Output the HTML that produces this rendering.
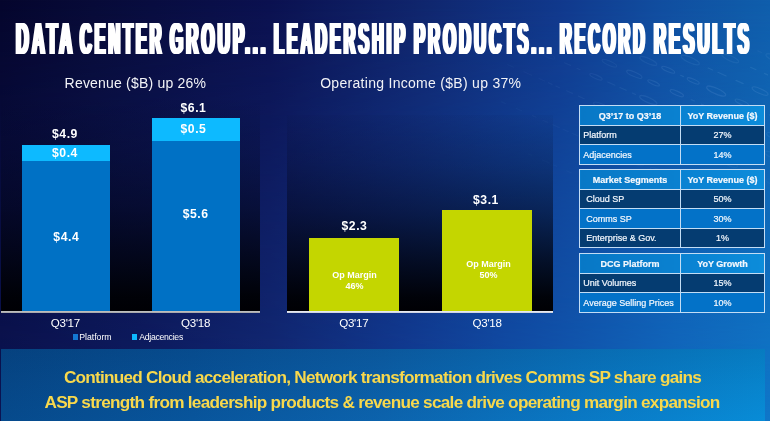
<!DOCTYPE html>
<html lang="en">
<head>
<meta charset="utf-8">
<title>Data Center Group - Leadership Products - Record Results</title>
<style>
html,body{margin:0;padding:0;}
body{width:770px;height:421px;overflow:hidden;position:relative;background:#0c1a66;font-family:"Liberation Sans",Arial,sans-serif;color:#fff;}
#slide{position:absolute;left:0;top:0;width:770px;height:421px;overflow:hidden;
  background:linear-gradient(to right,rgb(5,6,45) 0%,rgb(8,11,56) 12%,rgb(11,17,80) 35%,rgb(16,37,108) 54%,rgb(17,57,141) 73%,rgb(17,78,160) 86%,rgb(16,90,168) 96%,rgb(16,94,172) 100%);}
#bg2{position:absolute;left:0;top:0;width:770px;height:421px;
  background:linear-gradient(to right,rgb(11,20,84) 0%,rgb(14,29,100) 18%,rgb(18,43,120) 35%,rgb(17,61,150) 52%,rgb(16,78,168) 65%,rgb(16,90,178) 75%,rgb(16,106,192) 88%,rgb(15,118,200) 100%);
  -webkit-mask-image:linear-gradient(to bottom,rgba(0,0,0,0) 0%,rgba(0,0,0,1) 100%);mask-image:linear-gradient(to bottom,rgba(0,0,0,0) 0%,rgba(0,0,0,1) 100%);}
.abs{position:absolute;}
.t{position:absolute;white-space:nowrap;line-height:1;margin:0;}
.c{text-align:center;}
/* title */
#title{left:0;top:13.5px;width:770px;height:50px;font-weight:bold;font-size:45px;line-height:50px;letter-spacing:8.4px;color:#fff;text-shadow:4.0px 0 0 #fff,-4.0px 0 0 #fff,2.00px 0 0 #fff,-2.00px 0 0 #fff;}
#title span{position:absolute;top:0;transform-origin:0 0;white-space:nowrap;}
/* chart panels */
.panel{position:absolute;background:linear-gradient(to bottom,rgba(3,6,30,.03) 0%,rgba(3,6,30,.1) 8%,rgba(3,6,28,.25) 25%,rgba(2,4,22,.52) 50%,rgba(1,3,14,.82) 75%,rgba(0,1,6,.98) 93%,rgba(0,0,4,1) 100%);}
#p1{left:1px;top:100px;width:259px;height:211px;}
#p2{left:287px;top:115px;width:266px;height:196px;}
.axis{position:absolute;height:2px;background:#d3d6dd;}
.bar{position:absolute;}
.plat{background:#0071c5;}
.adj{background:#0dbaff;}
.grn{background:#c4d600;}
.val{font-weight:bold;font-size:12.2px;letter-spacing:.55px;text-indent:.55px;}
.sub{font-size:14px;color:#f2f3f7;}
.ax{font-size:11.6px;letter-spacing:-.3px;}
.lg{font-size:8.7px;}
.op{font-weight:bold;font-size:9px;line-height:11px;text-align:center;white-space:nowrap;position:absolute;}
/* tables */
table.tb{position:absolute;left:579px;width:185px;border-collapse:collapse;table-layout:fixed;font-size:9px;}
table.tb td,table.tb th{border:1px solid #c3ddf5;height:17.5px;padding:1px 0 0 0;line-height:10px;font-size:9px;color:#f4f8fd;-webkit-text-stroke:.2px #f4f8fd;}
table.tb th{background:linear-gradient(to right,#0878c6,#0a81d0);font-weight:bold;text-align:center;}
table.tb th+th{background:linear-gradient(to right,#0a82d2,#0c8cda);}
table.tb td{text-align:center;}
table.tb td:first-child{text-align:left;padding-left:3.3px;}
table.tb tr.d td{background:#053c71;}
table.tb tr.l td{background:#0372c8;}
table.tb.in td:first-child{padding-left:6.2px;}
/* banner */
#banner{position:absolute;left:1px;top:348.8px;width:764px;height:73px;background:linear-gradient(to bottom,rgba(0,8,40,.13) 0%,rgba(0,8,40,.06) 50%,rgba(0,8,40,0) 100%),linear-gradient(to right,rgb(6,74,140) 0%,rgb(8,85,156) 25%,rgb(12,99,173) 50%,rgb(10,120,196) 75%,rgb(8,140,215) 100%);}
.bt{color:#f8d84c;font-weight:bold;font-size:17.2px;}
</style>
</head>
<body>
<div id="slide">
  <div id="bg2"></div>
  <svg id="tex" class="abs" width="770" height="421" viewBox="0 0 770 421" style="left:0;top:0;filter:blur(.5px);" aria-hidden="true"><g stroke="#a9d6ff" stroke-width="1.2" stroke-linecap="round"><ellipse cx="548.3" cy="55.6" rx="7.1" ry="1.9" transform="rotate(24.0 548.3 55.6)" fill="none" stroke-opacity="0.03"/><line x1="564.5" y1="62.8" x2="570.4" y2="65.4" stroke-opacity="0.05"/><line x1="577.0" y1="68.3" x2="580.0" y2="69.7" stroke-opacity="0.06"/><ellipse cx="596.0" cy="76.8" rx="6.7" ry="1.8" transform="rotate(24.0 596.0 76.8)" fill="none" stroke-opacity="0.07"/><line x1="607.7" y1="82.0" x2="614.9" y2="85.2" stroke-opacity="0.07"/><line x1="619.9" y1="87.5" x2="626.2" y2="90.2" stroke-opacity="0.08"/><line x1="632.5" y1="93.1" x2="635.6" y2="94.5" stroke-opacity="0.08"/><ellipse cx="648.3" cy="100.1" rx="9.4" ry="2.5" transform="rotate(24.0 648.3 100.1)" fill="none" stroke-opacity="0.09"/><line x1="665.0" y1="107.5" x2="670.9" y2="110.2" stroke-opacity="0.08"/><ellipse cx="687.0" cy="117.3" rx="10.0" ry="2.7" transform="rotate(24.0 687.0 117.3)" fill="none" stroke-opacity="0.09"/><ellipse cx="714.5" cy="129.6" rx="8.9" ry="2.4" transform="rotate(24.0 714.5 129.6)" fill="none" stroke-opacity="0.08"/><line x1="731.5" y1="137.1" x2="738.3" y2="140.1" stroke-opacity="0.06"/><line x1="744.0" y1="142.7" x2="747.4" y2="144.2" stroke-opacity="0.06"/><line x1="754.1" y1="147.2" x2="757.7" y2="148.8" stroke-opacity="0.05"/><ellipse cx="773.4" cy="155.8" rx="9.3" ry="2.5" transform="rotate(24.0 773.4 155.8)" fill="none" stroke-opacity="0.05"/><line x1="572.4" y1="46.7" x2="575.5" y2="48.1" stroke-opacity="0.03"/><line x1="584.3" y1="52.0" x2="592.5" y2="55.7" stroke-opacity="0.04"/><ellipse cx="609.4" cy="63.2" rx="7.9" ry="2.1" transform="rotate(24.0 609.4 63.2)" fill="none" stroke-opacity="0.06"/><ellipse cx="634.3" cy="74.3" rx="8.3" ry="2.2" transform="rotate(24.0 634.3 74.3)" fill="none" stroke-opacity="0.09"/><ellipse cx="653.6" cy="82.9" rx="6.3" ry="1.7" transform="rotate(24.0 653.6 82.9)" fill="none" stroke-opacity="0.10"/><ellipse cx="676.8" cy="93.2" rx="7.2" ry="2.0" transform="rotate(24.0 676.8 93.2)" fill="none" stroke-opacity="0.11"/><line x1="691.2" y1="99.6" x2="694.4" y2="101.0" stroke-opacity="0.09"/><line x1="701.3" y1="104.1" x2="708.9" y2="107.5" stroke-opacity="0.09"/><line x1="718.6" y1="111.8" x2="722.8" y2="113.7" stroke-opacity="0.08"/><line x1="729.5" y1="116.7" x2="737.1" y2="120.0" stroke-opacity="0.08"/><ellipse cx="754.0" cy="127.6" rx="6.9" ry="1.9" transform="rotate(24.0 754.0 127.6)" fill="none" stroke-opacity="0.08"/><ellipse cx="774.5" cy="136.7" rx="8.4" ry="2.3" transform="rotate(24.0 774.5 136.7)" fill="none" stroke-opacity="0.07"/><line x1="611.4" y1="44.5" x2="618.5" y2="47.6" stroke-opacity="0.03"/><line x1="628.5" y1="52.1" x2="633.4" y2="54.3" stroke-opacity="0.05"/><ellipse cx="648.3" cy="60.9" rx="9.2" ry="2.5" transform="rotate(24.0 648.3 60.9)" fill="none" stroke-opacity="0.07"/><ellipse cx="668.2" cy="69.8" rx="7.0" ry="1.9" transform="rotate(24.0 668.2 69.8)" fill="none" stroke-opacity="0.10"/><line x1="680.6" y1="75.3" x2="683.6" y2="76.6" stroke-opacity="0.10"/><ellipse cx="693.2" cy="80.9" rx="6.5" ry="1.8" transform="rotate(24.0 693.2 80.9)" fill="none" stroke-opacity="0.11"/><ellipse cx="716.2" cy="91.1" rx="10.4" ry="2.8" transform="rotate(24.0 716.2 91.1)" fill="none" stroke-opacity="0.11"/><ellipse cx="741.9" cy="102.6" rx="7.3" ry="2.0" transform="rotate(24.0 741.9 102.6)" fill="none" stroke-opacity="0.10"/><line x1="756.0" y1="108.9" x2="759.4" y2="110.4" stroke-opacity="0.08"/><line x1="769.2" y1="114.8" x2="774.5" y2="117.1" stroke-opacity="0.08"/><line x1="652.6" y1="43.2" x2="660.7" y2="46.9" stroke-opacity="0.03"/><line x1="670.7" y1="51.3" x2="674.8" y2="53.1" stroke-opacity="0.05"/><ellipse cx="690.2" cy="60.0" rx="9.9" ry="2.7" transform="rotate(24.0 690.2 60.0)" fill="none" stroke-opacity="0.08"/><line x1="708.1" y1="68.0" x2="712.7" y2="70.0" stroke-opacity="0.10"/><line x1="718.0" y1="72.3" x2="726.1" y2="76.0" stroke-opacity="0.10"/><line x1="736.0" y1="80.4" x2="743.2" y2="83.6" stroke-opacity="0.10"/><ellipse cx="760.1" cy="91.1" rx="8.6" ry="2.3" transform="rotate(24.0 760.1 91.1)" fill="none" stroke-opacity="0.11"/><ellipse cx="709.3" cy="48.9" rx="7.1" ry="1.9" transform="rotate(24.0 709.3 48.9)" fill="none" stroke-opacity="0.04"/><ellipse cx="730.3" cy="58.3" rx="9.1" ry="2.5" transform="rotate(24.0 730.3 58.3)" fill="none" stroke-opacity="0.07"/><line x1="750.6" y1="67.3" x2="756.0" y2="69.7" stroke-opacity="0.10"/><line x1="764.4" y1="73.4" x2="767.6" y2="74.9" stroke-opacity="0.10"/><line x1="742.2" y1="44.0" x2="747.2" y2="46.2" stroke-opacity="0.03"/><line x1="757.8" y1="50.9" x2="761.4" y2="52.5" stroke-opacity="0.05"/><ellipse cx="775.6" cy="58.8" rx="10.5" ry="2.8" transform="rotate(24.0 775.6 58.8)" fill="none" stroke-opacity="0.07"/><line x1="507.7" y1="64.6" x2="513.6" y2="67.2" stroke-opacity="0.03"/><line x1="523.9" y1="71.8" x2="531.7" y2="75.3" stroke-opacity="0.04"/><line x1="539.0" y1="78.5" x2="544.6" y2="81.0" stroke-opacity="0.04"/><line x1="548.4" y1="82.7" x2="552.1" y2="84.4" stroke-opacity="0.05"/><line x1="555.8" y1="86.0" x2="559.5" y2="87.7" stroke-opacity="0.05"/><line x1="566.6" y1="90.8" x2="572.4" y2="93.4" stroke-opacity="0.05"/><line x1="578.5" y1="96.1" x2="584.2" y2="98.7" stroke-opacity="0.06"/><ellipse cx="601.7" cy="106.4" rx="8.8" ry="2.4" transform="rotate(24.0 601.7 106.4)" fill="none" stroke-opacity="0.06"/><ellipse cx="625.3" cy="117.0" rx="9.9" ry="2.7" transform="rotate(24.0 625.3 117.0)" fill="none" stroke-opacity="0.07"/><line x1="643.1" y1="124.9" x2="650.0" y2="127.9" stroke-opacity="0.06"/><line x1="660.3" y1="132.5" x2="666.4" y2="135.3" stroke-opacity="0.06"/><line x1="673.8" y1="138.5" x2="680.3" y2="141.4" stroke-opacity="0.06"/><line x1="687.3" y1="144.5" x2="692.6" y2="146.9" stroke-opacity="0.06"/><line x1="703.1" y1="151.6" x2="710.7" y2="155.0" stroke-opacity="0.05"/><ellipse cx="729.3" cy="163.2" rx="8.8" ry="2.4" transform="rotate(24.0 729.3 163.2)" fill="none" stroke-opacity="0.05"/><line x1="749.6" y1="172.3" x2="753.1" y2="173.9" stroke-opacity="0.03"/><line x1="757.7" y1="175.9" x2="760.8" y2="177.3" stroke-opacity="0.03"/><ellipse cx="774.8" cy="183.5" rx="9.3" ry="2.5" transform="rotate(24.0 774.8 183.5)" fill="none" stroke-opacity="0.03"/><line x1="501.6" y1="101.9" x2="505.6" y2="103.6" stroke-opacity="0.03"/><line x1="516.2" y1="108.4" x2="521.6" y2="110.8" stroke-opacity="0.03"/><line x1="532.5" y1="115.6" x2="536.1" y2="117.2" stroke-opacity="0.04"/><line x1="542.9" y1="120.3" x2="547.5" y2="122.3" stroke-opacity="0.04"/><line x1="552.6" y1="124.6" x2="559.3" y2="127.6" stroke-opacity="0.04"/><line x1="563.1" y1="129.3" x2="568.2" y2="131.6" stroke-opacity="0.04"/><line x1="572.0" y1="133.2" x2="578.2" y2="136.0" stroke-opacity="0.04"/><ellipse cx="595.6" cy="143.7" rx="10.9" ry="2.9" transform="rotate(24.0 595.6 143.7)" fill="none" stroke-opacity="0.04"/><line x1="616.6" y1="153.1" x2="619.9" y2="154.6" stroke-opacity="0.04"/><ellipse cx="634.5" cy="161.1" rx="9.9" ry="2.7" transform="rotate(24.0 634.5 161.1)" fill="none" stroke-opacity="0.04"/><ellipse cx="657.8" cy="171.4" rx="8.1" ry="2.2" transform="rotate(24.0 657.8 171.4)" fill="none" stroke-opacity="0.04"/><line x1="528.5" y1="153.9" x2="531.7" y2="155.3" stroke-opacity="0.03"/><line x1="542.2" y1="159.9" x2="549.3" y2="163.1" stroke-opacity="0.03"/><line x1="553.6" y1="165.0" x2="556.7" y2="166.4" stroke-opacity="0.03"/><line x1="566.6" y1="170.8" x2="571.2" y2="172.9" stroke-opacity="0.03"/></g></svg>
  <h1 id="title" class="t"><span style="left:16.29px;transform:scaleX(0.3912)">DATA</span> <span style="left:80.22px;transform:scaleX(0.3586)">CENTER</span> <span style="left:170.05px;transform:scaleX(0.3737)">GROUP...</span> <span style="left:273.76px;transform:scaleX(0.3583)">LEADERSHIP</span> <span style="left:414.17px;transform:scaleX(0.3676)">PRODUCTS...</span> <span style="left:560.16px;transform:scaleX(0.3575)">RECORD</span> <span style="left:653.77px;transform:scaleX(0.3692)">RESULTS</span></h1>

  <div class="t sub" style="left:64.6px;top:76px;letter-spacing:.2px;">Revenue ($B) up 26%</div>
  <div class="t sub" style="left:320.2px;top:76px;letter-spacing:.29px;">Operating Income ($B) up 37%</div>

  <div id="p1" class="panel"></div>
  <div id="p2" class="panel"></div>

  <div class="bar adj" style="left:22px;top:145px;width:88px;height:16px;"></div>
  <div class="bar plat" style="left:22px;top:161px;width:88px;height:150px;"></div>
  <div class="bar adj" style="left:152px;top:118px;width:88px;height:23px;"></div>
  <div class="bar plat" style="left:152px;top:141px;width:88px;height:170px;"></div>
  <div class="bar grn" style="left:309px;top:238px;width:90px;height:74px;"></div>
  <div class="bar grn" style="left:442px;top:210.4px;width:89.7px;height:101px;"></div>
  <div class="axis" style="left:1px;top:311px;width:259.4px;background:linear-gradient(to bottom,#bdbebd 0,#bdbebd 1px,#a9aaae 1px,#a9aaae 2px);"></div>
  <div class="axis" style="left:287px;top:311px;width:266px;background:linear-gradient(to bottom,#e6e9f0 0,#e6e9f0 1px,#cfd5e3 1px,#cfd5e3 2px);"></div>

  <div class="t val c" style="left:20.7px;width:88px;top:128px;">$4.9</div>
  <div class="t val c" style="left:20.7px;width:88px;top:147px;">$0.4</div>
  <div class="t val c" style="left:22px;width:88px;top:231px;">$4.4</div>
  <div class="t val c" style="left:149.2px;width:88px;top:102px;">$6.1</div>
  <div class="t val c" style="left:149.2px;width:88px;top:123px;">$0.5</div>
  <div class="t val c" style="left:151.4px;width:88px;top:208px;">$5.6</div>
  <div class="t val c" style="left:309.2px;width:90px;top:220px;">$2.3</div>
  <div class="t val c" style="left:440.7px;width:90px;top:194px;">$3.1</div>

  <div class="op" style="left:309.6px;width:90px;top:270.4px;">Op Margin<br>46%</div>
  <div class="op" style="left:443.5px;width:90px;top:259.3px;">Op Margin<br>50%</div>

  <div class="t ax c" style="left:21.4px;width:88px;top:317px;">Q3'17</div>
  <div class="t ax c" style="left:151.6px;width:88px;top:317px;">Q3'18</div>
  <div class="t ax c" style="left:308.8px;width:90px;top:317px;">Q3'17</div>
  <div class="t ax c" style="left:442.1px;width:90px;top:317px;">Q3'18</div>

  <div class="abs" style="left:72.8px;top:334px;width:5px;height:5.6px;background:#1478d2;"></div>
  <div class="t lg" style="left:79.2px;top:332.9px;">Platform</div>
  <div class="abs" style="left:132.3px;top:334px;width:5px;height:5.6px;background:#0db8ff;"></div>
  <div class="t lg" style="left:139.2px;top:332.9px;letter-spacing:-.28px;">Adjacencies</div>

  <table class="tb" style="top:105px;">
    <colgroup><col style="width:101px"><col style="width:84px"></colgroup>
    <tr><th>Q3’17 to Q3’18</th><th>YoY Revenue ($)</th></tr>
    <tr class="d"><td>Platform</td><td>27%</td></tr>
    <tr class="l"><td>Adjacencies</td><td>14%</td></tr>
  </table>
  <table class="tb in" style="top:169px;">
    <colgroup><col style="width:101px"><col style="width:84px"></colgroup>
    <tr><th>Market Segments</th><th>YoY Revenue ($)</th></tr>
    <tr class="d"><td>Cloud SP</td><td>50%</td></tr>
    <tr class="l"><td>Comms SP</td><td>30%</td></tr>
    <tr class="d"><td>Enterprise &amp; Gov.</td><td>1%</td></tr>
  </table>
  <table class="tb" style="top:253px;">
    <colgroup><col style="width:101px"><col style="width:84px"></colgroup>
    <tr><th>DCG Platform</th><th>YoY Growth</th></tr>
    <tr class="d"><td>Unit Volumes</td><td>15%</td></tr>
    <tr class="l"><td>Average Selling Prices</td><td>10%</td></tr>
  </table>

  <div id="banner"></div>
  <div class="t bt c" style="left:0;width:765px;top:369.4px;letter-spacing:-.76px;">Continued Cloud acceleration, Network transformation drives Comms SP share gains</div>
  <div class="t bt c" style="left:-.5px;width:765px;top:394.4px;letter-spacing:-.72px;">ASP strength from leadership products &amp; revenue scale drive operating margin expansion</div>
</div>
</body>
</html>
